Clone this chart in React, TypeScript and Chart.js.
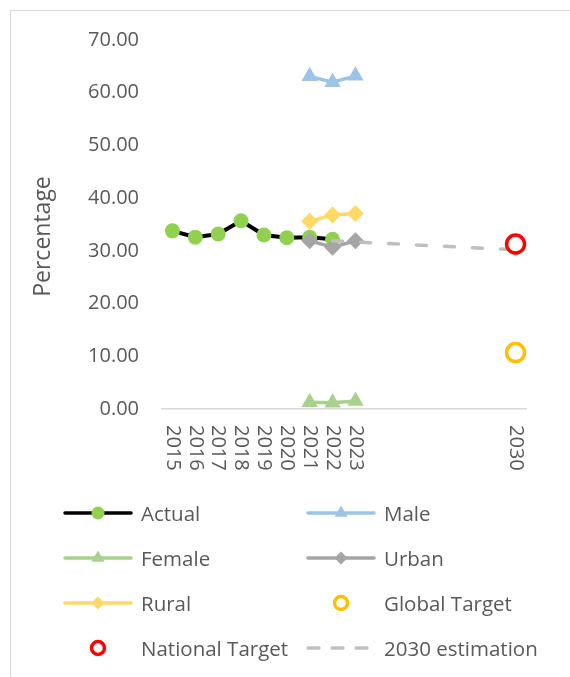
import React, { useEffect, useRef } from "react";
import { Chart, registerables } from "chart.js";

Chart.register(...registerables);

const FONT = "'Open Sans', 'Noto Sans', sans-serif";
const TEXT = "#595959";

const yTitle = "Percentage";
const xTickLabels = [2015, 2016, 2017, 2018, 2019, 2020, 2021, 2022, 2023, 2030];

const actualYears = [2015, 2016, 2017, 2018, 2019, 2020, 2021, 2022];
const actualValues = [33.8, 32.6, 33.2, 35.7, 33.0, 32.5, 32.6, 32.2];

const splitYears = [2021, 2022, 2023];
const maleValues = [63.1, 62.0, 63.2];
const femaleValues = [1.3, 1.2, 1.5];
const urbanValues = [31.9, 30.7, 31.9];
const ruralValues = [35.6, 36.8, 37.1];

const targetYears = [2030];
const globalTarget = [10.7];
const nationalTarget = [31.3];

const estimationYears = [2022, 2030];
const estimationValues = [31.9, 30.2];

const pts = (xs: number[], ys: number[]) => xs.map((x, i) => ({ x, y: ys[i] }));

const xLabelPlugin = {
  id: "xLabels",
  afterDraw(chart: any) {
    const ctx = chart.ctx;
    const sx = chart.scales.x;
    const top = chart.chartArea.bottom + 16;
    ctx.save();
    ctx.fillStyle = TEXT;
    ctx.font = `20px ${FONT}`;
    ctx.textAlign = "left";
    ctx.textBaseline = "middle";
    xTickLabels.forEach((yr) => {
      const x = sx.getPixelForValue(yr);
      ctx.save();
      ctx.translate(x, top);
      ctx.rotate(Math.PI / 2);
      ctx.fillText(String(yr), 0, 0);
      ctx.restore();
    });
    // y axis title
    const ca = chart.chartArea;
    ctx.save();
    ctx.translate(43, (ca.top + ca.bottom) / 2 + 12);
    ctx.rotate(-Math.PI / 2);
    ctx.font = `23px ${FONT}`;
    ctx.textAlign = "center";
    ctx.textBaseline = "middle";
    ctx.fillText(yTitle, 0, 0);
    ctx.restore();
    ctx.restore();
  },
};

function drawMarker(ctx: CanvasRenderingContext2D, style: string, x: number, y: number, r: number, fill: string, stroke: string, bw: number) {
  ctx.save();
  ctx.beginPath();
  if (style === "circle") {
    ctx.arc(x, y, r, 0, Math.PI * 2);
  } else if (style === "triangle") {
    for (let i = 0; i < 3; i++) {
      const a = (i * 2 * Math.PI) / 3;
      const px = x + Math.sin(a) * r;
      const py = y - Math.cos(a) * r;
      if (i === 0) ctx.moveTo(px, py);
      else ctx.lineTo(px, py);
    }
    ctx.closePath();
  } else if (style === "rectRot") {
    ctx.moveTo(x, y - r);
    ctx.lineTo(x + r, y);
    ctx.lineTo(x, y + r);
    ctx.lineTo(x - r, y);
    ctx.closePath();
  }
  ctx.fillStyle = fill;
  ctx.fill();
  if (bw > 0) {
    ctx.lineWidth = bw;
    ctx.strokeStyle = stroke;
    ctx.stroke();
  }
  ctx.restore();
}

const legendPlugin = {
  id: "customLegend",
  afterDraw(chart: any) {
    const ctx = chart.ctx;
    const ds = chart.data.datasets;
    const base = chart.chartArea.bottom;
    const rowYs = [104, 149, 194, 239].map((d) => base + d);
    const colX = [63, 306];
    const lineLen = 70;
    const textGap = 8;
    ctx.save();
    ds.forEach((d: any, i: number) => {
      const row = Math.floor(i / 2);
      const col = i % 2;
      const y = rowYs[row];
      const x0 = colX[col];
      const cx = x0 + lineLen / 2;
      if (d.showLine !== false) {
        ctx.save();
        ctx.beginPath();
        ctx.strokeStyle = d.borderColor;
        ctx.lineWidth = 3.5;
        ctx.lineCap = "round";
        if (d.borderDash) {
          ctx.setLineDash([11, 13]);
        }
        ctx.moveTo(x0 + 2, y);
        ctx.lineTo(x0 + lineLen - 2, y);
        ctx.stroke();
        ctx.restore();
      }
      if (d.legendMarker) {
        const m = d.legendMarker;
        drawMarker(ctx, m.style, cx, y, m.r, m.fill, m.stroke, m.bw);
      }
      ctx.fillStyle = TEXT;
      ctx.font = `20.5px ${FONT}`;
      ctx.textAlign = "left";
      ctx.textBaseline = "alphabetic";
      ctx.fillText(d.label, x0 + lineLen + textGap, y + 7.5);
    });
    ctx.restore();
  },
};

export default function App() {
  const ref = useRef<HTMLCanvasElement | null>(null);

  useEffect(() => {
    if (!ref.current) return;
    const chart = new Chart(ref.current, {
      type: "line",
      data: {
        datasets: [
          {
            label: "Actual",
            data: pts(actualYears, actualValues),
            borderColor: "#000000",
            borderWidth: 4,
            pointStyle: "circle",
            pointRadius: 7.5,
            pointBackgroundColor: "#92d050",
            pointBorderColor: "#92d050",
            pointBorderWidth: 0,
            order: 8,
            legendMarker: { style: "circle", r: 6.5, fill: "#92d050", stroke: "#92d050", bw: 0 },
          } as any,
          {
            label: "Male",
            data: pts(splitYears, maleValues),
            borderColor: "#9dc3e6",
            borderWidth: 3.5,
            pointStyle: "triangle",
            pointRadius: 9.5,
            pointBackgroundColor: "#9dc3e6",
            pointBorderColor: "#9dc3e6",
            pointBorderWidth: 0,
            order: 7,
            legendMarker: { style: "triangle", r: 7.5, fill: "#9dc3e6", stroke: "#9dc3e6", bw: 0 },
          },
          {
            label: "Female",
            data: pts(splitYears, femaleValues),
            borderColor: "#a9d18e",
            borderWidth: 3.5,
            pointStyle: "triangle",
            pointRadius: 9.5,
            pointBackgroundColor: "#a9d18e",
            pointBorderColor: "#a9d18e",
            pointBorderWidth: 0,
            order: 6,
            legendMarker: { style: "triangle", r: 7.5, fill: "#a9d18e", stroke: "#a9d18e", bw: 0 },
          },
          {
            label: "Urban",
            data: pts(splitYears, urbanValues),
            borderColor: "#a5a5a5",
            borderWidth: 3.5,
            pointStyle: "rectRot",
            pointRadius: 8.5,
            pointBackgroundColor: "#a5a5a5",
            pointBorderColor: "#a5a5a5",
            pointBorderWidth: 0,
            order: 5,
            legendMarker: { style: "rectRot", r: 6.5, fill: "#a5a5a5", stroke: "#a5a5a5", bw: 0 },
          },
          {
            label: "Rural",
            data: pts(splitYears, ruralValues),
            borderColor: "#ffd966",
            borderWidth: 3.5,
            pointStyle: "rectRot",
            pointRadius: 8.5,
            pointBackgroundColor: "#ffd966",
            pointBorderColor: "#ffd966",
            pointBorderWidth: 0,
            order: 4,
            legendMarker: { style: "rectRot", r: 6.5, fill: "#ffd966", stroke: "#ffd966", bw: 0 },
          },
          {
            label: "Global Target",
            data: pts(targetYears, globalTarget),
            showLine: false,
            borderColor: "#ffc000",
            pointStyle: "circle",
            pointRadius: 9,
            pointBackgroundColor: "#ffffff",
            pointBorderColor: "#ffc000",
            pointBorderWidth: 3.5,
            order: 2,
            legendMarker: { style: "circle", r: 6.5, fill: "#ffffff", stroke: "#ffc000", bw: 3.5 },
          },
          {
            label: "National Target",
            data: pts(targetYears, nationalTarget),
            showLine: false,
            borderColor: "#ff0000",
            pointStyle: "circle",
            pointRadius: 9,
            pointBackgroundColor: "#ffffff",
            pointBorderColor: "#ff0000",
            pointBorderWidth: 3.5,
            order: 1,
            legendMarker: { style: "circle", r: 6.5, fill: "#ffffff", stroke: "#ff0000", bw: 3.5 },
          },
          {
            label: "2030 estimation",
            data: pts(estimationYears, estimationValues),
            borderColor: "#bfbfbf",
            borderWidth: 3.5,
            borderDash: [10, 18],
            borderCapStyle: "round",
            pointStyle: "circle",
            pointRadius: [0, 6],
            pointBackgroundColor: "#bfbfbf",
            pointBorderColor: "#bfbfbf",
            pointBorderWidth: 0,
            order: 3,
          },
        ] as any,
      },
      options: {
        animation: false,
        responsive: true,
        maintainAspectRatio: false,
        layout: { padding: { left: 20, top: 40, right: 43, bottom: 198 } },
        plugins: { legend: { display: false }, tooltip: { enabled: false } },
        scales: {
          x: {
            type: "linear",
            min: 2014.5,
            max: 2030.5,
            grid: { display: false, drawTicks: false },
            border: { display: false },
            ticks: { display: false },
            afterFit: (s: any) => {
              s.height = 70;
            },
          },
          y: {
            min: 0,
            max: 70,
            ticks: {
              stepSize: 10,
              padding: 22,
              color: TEXT,
              font: { family: FONT, size: 20 },
              callback: (v: any) => Number(v).toFixed(2),
            },
            grid: {
              drawTicks: false,
              color: (c: any) => (c.tick && c.tick.value === 0 ? "#d9d9d9" : "rgba(0,0,0,0)"),
              lineWidth: 1.5,
            },
            border: { display: false },
            afterFit: (s: any) => {
              s.width = 141;
            },
          },
        },
      },
      plugins: [xLabelPlugin, legendPlugin],
    });
    return () => chart.destroy();
  }, []);

  return (
    <>
      <div
        style={{
          position: "fixed",
          left: 10,
          top: 10,
          width: 640,
          height: 720,
          border: "1px solid #d9d9d9",
          boxSizing: "border-box",
          pointerEvents: "none",
        }}
      />
      <div style={{ position: "fixed", left: 0, top: 0, width: 570, height: 677 }}>
        <canvas ref={ref} />
      </div>
    </>
  );
}
